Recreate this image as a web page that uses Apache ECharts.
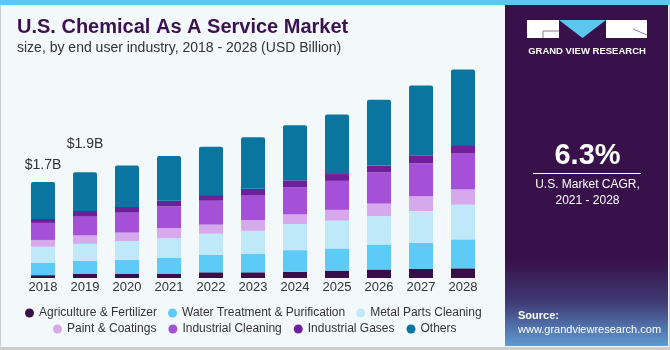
<!DOCTYPE html>
<html>
<head>
<meta charset="utf-8">
<script src="https://cdn.jsdelivr.net/npm/echarts@6/dist/echarts.min.js"></script>
<style>
body { margin: 0; }
#container { width: 670px; height: 350px; }
</style>
</head>
<body>
<div id="container"></div>
<script>
// values, USD billion
var years = ['2018', '2019', '2020', '2021', '2022', '2023', '2024', '2025', '2026', '2027', '2028'];
var agriculture = [0.05, 0.07, 0.07, 0.07, 0.10, 0.10, 0.11, 0.13, 0.15, 0.16, 0.17];
var waterTreatment = [0.22, 0.23, 0.25, 0.29, 0.31, 0.33, 0.38, 0.39, 0.44, 0.46, 0.51];
var metalParts = [0.28, 0.30, 0.33, 0.34, 0.37, 0.40, 0.46, 0.49, 0.50, 0.56, 0.61];
var paintCoatings = [0.12, 0.15, 0.15, 0.18, 0.16, 0.19, 0.17, 0.19, 0.22, 0.26, 0.27];
var industrialCleaning = [0.30, 0.33, 0.35, 0.38, 0.42, 0.43, 0.48, 0.51, 0.55, 0.58, 0.63];
var industrialGases = [0.07, 0.10, 0.10, 0.10, 0.10, 0.12, 0.12, 0.12, 0.12, 0.14, 0.15];
var others = [0.65, 0.68, 0.73, 0.79, 0.85, 0.91, 0.97, 1.05, 1.16, 1.23, 1.33];
var totalLabels = ['$1.7B', '$1.9B'];

var seriesNames = ['Agriculture & Fertilizer', 'Water Treatment & Purification', 'Metal Parts Cleaning',
	'Paint & Coatings', 'Industrial Cleaning', 'Industrial Gases', 'Others'];
var seriesValues = [agriculture, waterTreatment, metalParts, paintCoatings, industrialCleaning, industrialGases, others];
var colors = ['#380e4b', '#5ccbf6', '#bfe9f9', '#d6a9ec', '#a450d8', '#701f9b', '#0a769f'];

var myChart = echarts.init(document.getElementById('container'));

var series = [];
for (var i = 0; i < seriesNames.length; ++i) {
	var data = seriesValues[i];
	if (i == seriesNames.length - 1) {
		// total labels sit on top of the last stack segment
		data = seriesValues[i].map(function(v, j) {
			if (j >= totalLabels.length) return v;
			return {
				value: v,
				label: { show: true, position: 'top', distance: j == 0 ? 10 : 21, formatter: totalLabels[j] }
			};
		});
	}
	series.push({
		name: seriesNames[i],
		type: 'bar',
		stack: 'total',
		barWidth: 24,
		itemStyle: {
			color: colors[i],
			borderRadius: i == seriesNames.length - 1 ? [2, 2, 0, 0] : 0
		},
		label: { color: '#333', fontSize: 14, fontFamily: 'Liberation Sans' },
		data: data
	});
}

var option = {
	backgroundColor: '#cdcdcd',
	textStyle: { fontFamily: 'Liberation Sans' },
	title: {
		text: 'U.S. Chemical As A Service Market',
		subtext: 'size, by end user industry, 2018 - 2028 (USD Billion)',
		left: 17,
		top: 17,
		itemGap: 4,
		padding: 0,
		textStyle: { fontSize: 20, fontWeight: 'bold', color: '#3b1150', lineHeight: 20 },
		subtextStyle: { fontSize: 14, color: '#333', lineHeight: 14 }
	},
	legend: [
		{
			data: seriesNames.slice(0, 3),
			left: 25,
			top: 307,
			padding: 0,
			icon: 'circle',
			itemWidth: 9,
			itemHeight: 9,
			itemGap: 11,
			textStyle: { fontSize: 12, color: '#333' }
		},
		{
			data: seriesNames.slice(3),
			left: 53,
			top: 323,
			padding: 0,
			icon: 'circle',
			itemWidth: 9,
			itemHeight: 9,
			itemGap: 12,
			textStyle: { fontSize: 12, color: '#333' }
		}
	],
	grid: { left: 22, right: 186, top: 50.8, bottom: 72 },
	xAxis: {
		type: 'category',
		data: years,
		axisLine: { show: false },
		axisTick: { show: false },
		axisLabel: { color: '#333', fontSize: 13, margin: 3 }
	},
	yAxis: {
		type: 'value',
		min: 0,
		max: 4,
		show: false
	},
	graphic: [
		{ type: 'rect', z: -10, shape: { x: 1, y: 0, width: 668, height: 347 }, style: { fill: '#f3f8fb' } },
		{ type: 'rect', z: -9, shape: { x: 0, y: 0, width: 670, height: 5 }, style: { fill: '#5cc6ee' } },
		{
			type: 'rect', z: -9, shape: { x: 505, y: 5, width: 163, height: 341 },
			style: {
				fill: new echarts.graphic.LinearGradient(0, 0, 0, 1, [
					{ offset: 0, color: '#38114a' },
					{ offset: 0.75, color: '#38114a' },
					{ offset: 0.87, color: '#3e3a74' },
					{ offset: 1, color: '#5f9bd2' }
				])
			}
		},
		// logo
		{ type: 'rect', shape: { x: 527, y: 20, width: 32, height: 18 }, style: { fill: '#fff' } },
		{ type: 'polyline', shape: { points: [[543, 38], [543, 31], [559, 31]] }, style: { stroke: '#8a7a95', lineWidth: 1 } },
		{ type: 'polygon', shape: { points: [[559, 20], [606, 20], [582.5, 38]] }, style: { fill: '#5cc6ee' } },
		{ type: 'rect', shape: { x: 606, y: 20, width: 41, height: 18 }, style: { fill: '#fff' } },
		{ type: 'line', shape: { x1: 633, y1: 29, x2: 647, y2: 35 }, style: { stroke: '#8a7a95', lineWidth: 1 } },
		{
			type: 'text', style: { text: 'GRAND VIEW RESEARCH', x: 587, y: 51, align: 'center', verticalAlign: 'middle',
				fill: '#fff', font: 'bold 9.5px "Liberation Sans"' }
		},
		{
			type: 'text', style: { text: '6.3%', x: 587.5, y: 156, align: 'center', verticalAlign: 'middle',
				fill: '#fff', font: 'bold 29px "Liberation Sans"' }
		},
		{ type: 'line', shape: { x1: 533, y1: 173.5, x2: 641, y2: 173.5 }, style: { stroke: '#fff', lineWidth: 1 } },
		{
			type: 'text', style: { text: 'U.S. Market CAGR,', x: 587.5, y: 185, align: 'center', verticalAlign: 'middle',
				fill: '#fff', font: '12px "Liberation Sans"' }
		},
		{
			type: 'text', style: { text: '2021 - 2028', x: 587.5, y: 201, align: 'center', verticalAlign: 'middle',
				fill: '#fff', font: '12px "Liberation Sans"' }
		},
		{
			type: 'text', style: { text: 'Source:', x: 518, y: 316, verticalAlign: 'middle',
				fill: '#fff', font: 'bold 11px "Liberation Sans"' }
		},
		{
			type: 'text', style: { text: 'www.grandviewresearch.com', x: 518, y: 330, verticalAlign: 'middle',
				fill: '#fff', font: '11px "Liberation Sans"' }
		}
	],
	series: series
};
myChart.setOption(option);
</script>
</body>
</html>
